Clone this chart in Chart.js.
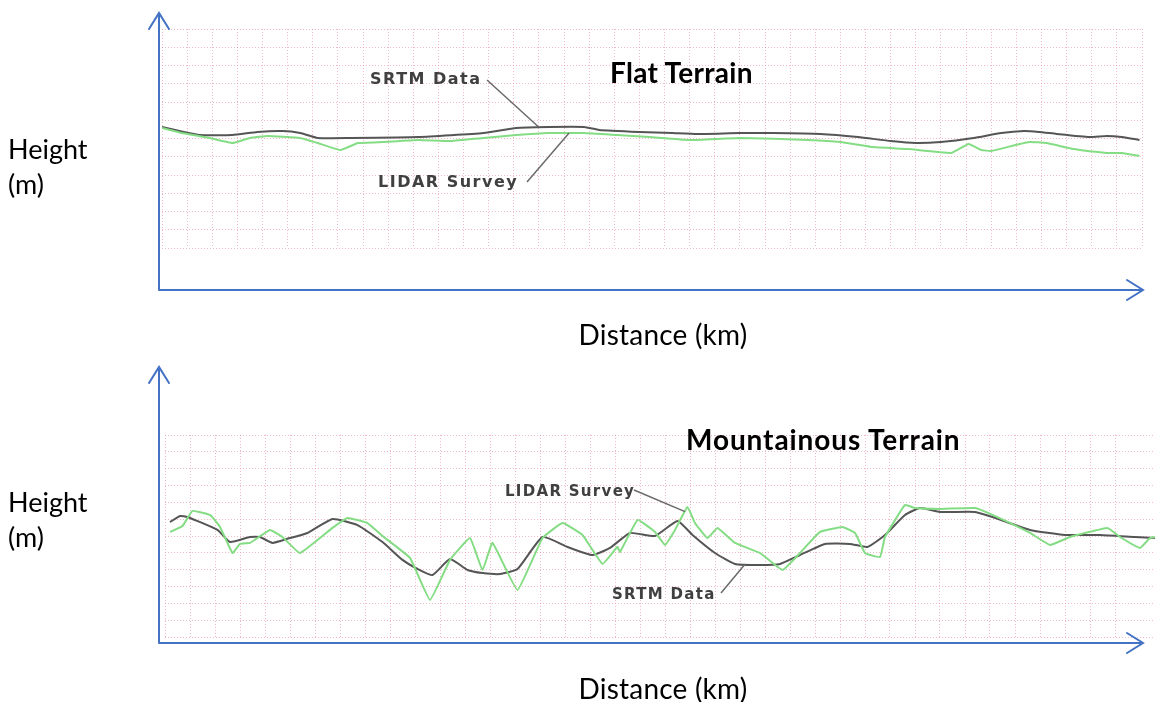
<!DOCTYPE html>
<html>
<head>
<meta charset="utf-8">
<script src="https://cdn.jsdelivr.net/npm/chart.js@4/dist/chart.umd.min.js"></script>
<style>
  html, body { margin: 0; padding: 0; background: #ffffff; }
  #page { position: relative; width: 1155px; height: 702px; overflow: hidden; background: #fff; }
  canvas { position: absolute; left: 0; }
  .axis-label { position: absolute; font-family: Lato, "Open Sans", sans-serif; font-size: 27px; line-height: 35px; color: #000; white-space: nowrap; }
  .axis-label.wide { font-size: 28px; letter-spacing: 0.2px; }
  .panel-title { position: absolute; font-family: Lato, "Open Sans", sans-serif; font-weight: 700; font-size: 28px; line-height: 30px; color: #000; white-space: nowrap; }
  .series-note { position: absolute; font-family: "DejaVu Sans", sans-serif; font-weight: 700; color: #404040; white-space: nowrap; filter: blur(0.35px); }
</style>
</head>
<body>
<div id="page">
  <canvas id="flat" width="1155" height="351" style="top:0"></canvas>
  <canvas id="mountain" width="1155" height="351" style="top:351px"></canvas>

  <div class="axis-label" style="left:8px; top:131px;">Height<br>(m)</div>
  <div class="axis-label" style="left:8px; top:484px;">Height<br>(m)</div>
  <div class="axis-label wide" style="left:0; width:1326px; text-align:center; top:317px;">Distance (km)</div>
  <div class="axis-label wide" style="left:0; width:1326px; text-align:center; top:671px;">Distance (km)</div>

  <div class="panel-title" style="left:610px; top:57px; letter-spacing:0.3px;">Flat Terrain</div>
  <div class="panel-title" style="left:686px; top:424px; letter-spacing:0.9px;">Mountainous Terrain</div>

  <div class="series-note" style="left:370px; top:71px; font-size:16px; line-height:16px; letter-spacing:1.5px;">SRTM Data</div>
  <div class="series-note" style="left:378px; top:174px; font-size:16px; line-height:16px; letter-spacing:1.5px;">LIDAR Survey</div>
  <div class="series-note" style="left:505px; top:484px; font-size:15px; line-height:15px; letter-spacing:1.3px;">LIDAR Survey</div>
  <div class="series-note" style="left:612px; top:587px; font-size:15px; line-height:15px; letter-spacing:1.3px;">SRTM Data</div>
</div>

<script>
// ---- Flat terrain profile: distance (km) and height (m) ----
const flatSrtmKm = [0, 0.7, 1.5, 2.8, 3.8, 4.8, 5.5, 6.2, 7.5, 10.2, 12.8, 14.1, 15.4, 16.8, 17.4, 19.0, 20.3, 21.3, 23.0, 24.3, 26.2, 27.7, 29.0, 30.0, 31.0, 32.3, 33.4, 34.3, 34.9, 35.6, 36.9, 37.6, 38.2, 38.9];
const flatSrtmM  = [66.3, 64.1, 61.9, 61.9, 63.6, 64.1, 63.0, 60.3, 60.3, 60.8, 63.0, 65.8, 66.3, 66.3, 64.7, 63.6, 63.0, 62.5, 63.0, 63.0, 62.5, 60.8, 58.6, 57.5, 58.1, 60.3, 63.0, 64.1, 63.6, 62.5, 60.8, 61.4, 60.8, 59.2];

const flatLidarKm = [0, 0.8, 1.9, 2.8, 3.5, 4.2, 5.5, 6.2, 7.1, 7.8, 8.8, 10.2, 11.5, 12.8, 14.1, 15.4, 16.8, 18.1, 19.4, 21.0, 23.0, 25.7, 27.0, 28.3, 29.7, 31.4, 32.1, 32.6, 33.0, 34.5, 35.2, 36.3, 37.6, 38.2, 38.9];
const flatLidarM  = [65.8, 63.0, 60.3, 57.5, 60.3, 61.4, 60.3, 57.5, 53.7, 57.5, 58.1, 59.2, 58.6, 60.3, 61.9, 63.0, 63.0, 61.9, 60.8, 59.2, 60.3, 59.2, 58.1, 55.3, 54.2, 52.1, 57.0, 53.7, 53.2, 58.1, 57.5, 54.2, 52.1, 52.1, 50.4];

// ---- Mountainous terrain profile: distance (km) and height (m) ----
const mountSrtmKm = [0.2, 0.6, 0.9, 2.1, 2.6, 3.4, 3.8, 4.3, 5.0, 5.7, 6.7, 7.7, 8.7, 9.5, 10.1, 10.7, 11.4, 12.1, 12.7, 13.4, 14.1, 15.1, 16.1, 17.1, 17.8, 18.6, 19.6, 20.5, 21.1, 22.0, 22.8, 23.8, 24.6, 25.4, 26.4, 27.4, 28.1, 28.8, 29.6, 30.2, 31.0, 32.4, 33.1, 34.6, 36.0, 37.4, 38.8, 39.6];
const mountSrtmM  = [68.3, 71.9, 71.3, 63.6, 56.4, 59.4, 59.4, 55.9, 58.8, 61.8, 70.1, 66.5, 56.4, 45.8, 40.4, 36.8, 46.3, 39.8, 38.0, 37.4, 40.4, 59.4, 53.5, 48.7, 52.9, 61.8, 60.0, 68.9, 60.6, 49.9, 43.4, 42.8, 43.4, 48.7, 55.3, 55.3, 53.5, 60.6, 72.5, 76.6, 74.3, 74.3, 71.3, 63.6, 60.6, 60.6, 59.4, 58.8];

const mountLidarKm = [0.2, 0.7, 1.1, 1.8, 2.2, 2.7, 3.0, 3.4, 4.2, 4.7, 5.4, 6.7, 7.3, 8.1, 8.7, 9.8, 10.6, 11.4, 12.2, 12.7, 13.1, 14.1, 15.1, 15.9, 16.7, 17.5, 18.1, 18.2, 18.9, 19.6, 20.0, 20.4, 20.9, 21.2, 21.7, 22.1, 22.8, 23.8, 24.7, 25.4, 26.2, 27.1, 27.6, 28.0, 28.6, 28.8, 29.6, 30.0, 31.0, 32.4, 33.1, 34.6, 35.4, 36.2, 37.7, 38.2, 39.0, 39.4, 39.6];
const mountLidarM  = [62.4, 66.0, 74.9, 72.5, 65.4, 49.9, 55.3, 55.9, 63.6, 59.4, 49.9, 64.8, 70.7, 67.7, 60.0, 47.0, 22.0, 45.8, 58.8, 39.8, 55.9, 27.9, 58.8, 67.7, 60.6, 43.4, 53.5, 50.5, 69.5, 62.4, 54.7, 63.6, 77.2, 67.7, 58.8, 64.8, 55.9, 49.9, 39.8, 49.9, 62.4, 65.4, 61.8, 49.9, 47.5, 59.4, 78.4, 76.6, 76.1, 76.6, 72.5, 61.8, 54.7, 59.4, 64.8, 59.4, 52.9, 58.8, 59.4];

const SERIES_NAMES = ['SRTM Data', 'LIDAR Survey'];
const SRTM_COLOR = '#555555';
const LIDAR_COLOR = '#84dd84';
const GRID_COLOR = 'rgba(228, 140, 160, 0.6)';
const AXIS_BLUE = '#4472C4';

const toPoints = (km, m) => km.map((x, i) => ({ x, y: m[i] }));

// height of a series at a given distance, linearly between its samples
function heightAt(points, km) {
  for (let i = 0; i < points.length - 1; i++) {
    const a = points[i], b = points[i + 1];
    if (km >= a.x && km <= b.x) {
      const t = (km - a.x) / (b.x - a.x || 1);
      return a.y + t * (b.y - a.y);
    }
  }
  return points[points.length - 1].y;
}

// blue arrowed axes plus leader lines from the series notes to their curves
const profileFrame = {
  id: 'profileFrame',
  afterDraw(chart, args, opts) {
    const { ctx, chartArea: a } = chart;
    const ox = a.left + opts.yAxisDx;
    const oy = a.bottom + opts.xAxisDy;
    const topY = a.top + opts.yTipDy;
    const rightX = a.right + opts.xTipDx;
    ctx.save();
    ctx.strokeStyle = AXIS_BLUE;
    ctx.lineWidth = 2;
    ctx.lineCap = 'round';
    ctx.beginPath();
    ctx.moveTo(ox, oy); ctx.lineTo(ox, topY);
    ctx.moveTo(ox, oy); ctx.lineTo(rightX, oy);
    // arrowheads
    ctx.moveTo(ox - 10, topY + 16); ctx.lineTo(ox, topY); ctx.lineTo(ox + 10, topY + 16);
    ctx.moveTo(rightX - 16, oy - 10); ctx.lineTo(rightX, oy); ctx.lineTo(rightX - 16, oy + 10);
    ctx.stroke();

    ctx.strokeStyle = '#6a6a6a';
    ctx.lineWidth = 1.5;
    ctx.lineCap = 'butt';
    const xs = chart.scales.x, ys = chart.scales.y;
    (opts.leaders || []).forEach(l => {
      const pts = chart.data.datasets[l.dataset].data;
      const px = xs.getPixelForValue(l.km);
      const py = ys.getPixelForValue(heightAt(pts, l.km));
      ctx.beginPath();
      ctx.moveTo(l.from[0], l.from[1]);
      ctx.lineTo(px, py);
      ctx.stroke();
    });
    ctx.restore();
  }
};

function makeProfile(canvasId, srtm, lidar, xMax, padding, frame) {
  return new Chart(document.getElementById(canvasId), {
    type: 'line',
    data: {
      datasets: [
        { label: SERIES_NAMES[0], data: srtm, borderColor: SRTM_COLOR, borderWidth: 2, pointRadius: 0, tension: 0.15, order: 2 },
        { label: SERIES_NAMES[1], data: lidar, borderColor: LIDAR_COLOR, borderWidth: 2, pointRadius: 0, tension: 0.1, order: 1 }
      ]
    },
    options: {
      responsive: false,
      animation: false,
      layout: { padding },
      plugins: { legend: { display: false }, tooltip: { enabled: false }, profileFrame: frame },
      scales: {
        x: {
          type: 'linear', min: 0, max: xMax,
          ticks: { display: false, stepSize: 1 },
          grid: { color: GRID_COLOR, lineWidth: 1, drawTicks: false },
          border: { display: false, dash: [1, 2] }
        },
        y: {
          type: 'linear', min: 0, max: 120,
          ticks: { display: false, stepSize: 10 },
          grid: { color: GRID_COLOR, lineWidth: 1, drawTicks: false },
          border: { display: false, dash: [1, 2] }
        }
      }
    },
    plugins: [profileFrame]
  });
}

makeProfile('flat',
  toPoints(flatSrtmKm, flatSrtmM),
  toPoints(flatLidarKm, flatLidarM),
  39,
  { left: 162, right: 13, top: 29, bottom: 103 },
  { yAxisDx: -3, xAxisDy: 42, yTipDy: -16, xTipDx: 1,
    leaders: [ { dataset: 0, km: 15.0, from: [487, 80] }, { dataset: 1, km: 16.2, from: [527, 182] } ] }
);

makeProfile('mountain',
  toPoints(mountSrtmKm, mountSrtmM),
  toPoints(mountLidarKm, mountLidarM),
  39.6,
  { left: 165, right: 0, top: 84, bottom: 65 },
  { yAxisDx: -6, xAxisDy: 6, yTipDy: -68, xTipDx: -12,
    leaders: [ { dataset: 1, km: 20.8, from: [634, 139] }, { dataset: 0, km: 23.2, from: [721, 242] } ] }
);
</script>
</body>
</html>
